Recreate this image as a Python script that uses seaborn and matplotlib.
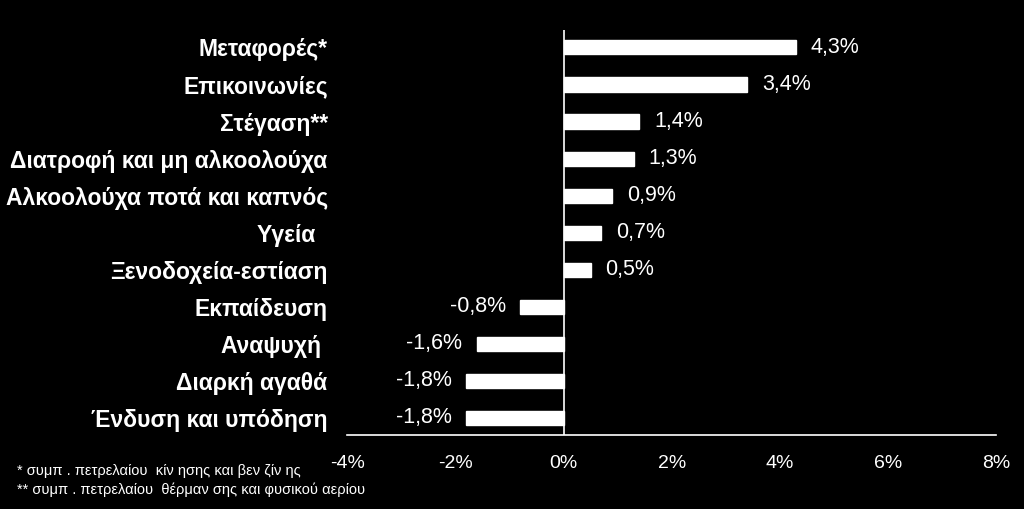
import matplotlib
matplotlib.use('Agg')
import matplotlib.pyplot as plt
import seaborn as sns
import pandas as pd

# Δεδομένα
katigories = ['Μεταφορές*', 'Επικοινωνίες', 'Στέγαση**', 'Διατροφή και μη αλκοολούχα',
              'Αλκοολούχα ποτά και καπνός', 'Υγεία  ', 'Ξενοδοχεία-εστίαση', 'Εκπαίδευση',
              'Αναψυχή ', 'Διαρκή αγαθά', 'Ένδυση και υπόδηση']
metavoli = [4.3, 3.4, 1.4, 1.3, 0.9, 0.7, 0.5, -0.8, -1.6, -1.8, -1.8]
x_ticks = [-4, -2, 0, 2, 4, 6, 8]
simeioseis = ['* συμπ . πετρελαίου  κίν ησης και βεν ζίν ης',
              '** συμπ . πετρελαίου  θέρμαν σης και φυσικού αερίου']

df = pd.DataFrame({'Κατηγορία': katigories, 'Μεταβολή': metavoli})

sns.set_style('dark')
plt.rcParams['font.family'] = ['Liberation Sans', 'DejaVu Sans']

fig = plt.figure(figsize=(10.24, 5.09), dpi=100, facecolor='black')
ax = fig.add_axes([0.339, 0.145, 0.634, 0.796])
ax.set_facecolor('black')

sns.barplot(data=df, x='Μεταβολή', y='Κατηγορία', orient='h', color='white',
            saturation=1, width=0.38, ax=ax)

# Ετικέτες τιμών
for i, v in enumerate(metavoli):
    txt = f'{v:.1f}%'.replace('.', ',')
    if v >= 0:
        ax.text(v + 0.27, i, txt, va='center', ha='left', color='white', fontsize=15.5)
    else:
        ax.text(v - 0.27, i, txt, va='center', ha='right', color='white', fontsize=15.5)

ax.set_xlim(-4, 8)
ax.set_ylim(10.47, -0.47)
ax.set_xticks(x_ticks)
ax.set_xticklabels([f'{t}%' for t in x_ticks], color='white', fontsize=14)
ax.tick_params(axis='x', colors='white', direction='out', length=6, width=1.2, pad=8)
ax.tick_params(axis='y', length=0, pad=14)
for lbl in ax.get_yticklabels():
    lbl.set_color('white')
    lbl.set_fontsize(16.5)
    lbl.set_fontweight('bold')
ax.set_xlabel('')
ax.set_ylabel('')
ax.grid(False)

for s in ['top', 'right', 'left']:
    ax.spines[s].set_visible(False)
ax.spines['bottom'].set_visible(True)
ax.spines['bottom'].set_color('white')
ax.spines['bottom'].set_linewidth(1.2)
ax.axvline(0, color='white', linewidth=1.2)

# Σημειώσεις
fig.text(0.017, 0.066, simeioseis[0], color='white', fontsize=10.5)
fig.text(0.017, 0.030, simeioseis[1], color='white', fontsize=10.5)

fig.savefig('out.png', dpi=100, facecolor='black')
plt.close(fig)
